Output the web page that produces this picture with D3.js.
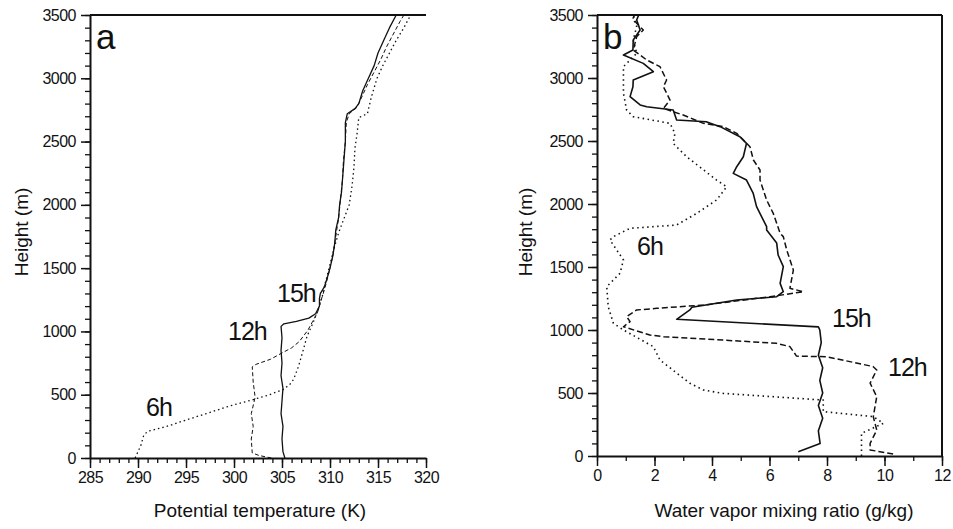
<!DOCTYPE html>
<html>
<head>
<meta charset="utf-8">
<script src="https://cdn.jsdelivr.net/npm/d3@7"></script>
<style>
  body { margin: 0; background: #fff; }
  svg { display: block; font-family: "Liberation Sans", Arial, sans-serif; }
  .axis path, .axis line { stroke: #111; }
  .axis text { font-size: 16px; fill: #111; font-family: "Liberation Sans", Arial, sans-serif; letter-spacing: -0.5px; }
</style>
</head>
<body>
<svg width="953" height="529"></svg>
<script>
// panel a: potential temperature (K) vs height (m)
var thetaTicks = [285, 290, 295, 300, 305, 310, 315, 320];
var heightTicks = [0, 500, 1000, 1500, 2000, 2500, 3000, 3500];
var theta6h = [[289.7,0],[290.3,100],[290.6,180],[291.0,210],[293.0,250],[295.0,300],[297.5,360],[299.5,410],[301.7,455],[303.5,495],[305.1,540],[305.8,580],[306.2,620],[306.7,720],[307.2,850],[307.6,960],[308.3,1080],[308.8,1180],[309.2,1280],[309.5,1380],[309.9,1500],[310.4,1650],[310.9,1780],[311.4,1880],[312.0,2000],[312.3,2150],[312.5,2300],[312.6,2450],[312.8,2550],[313.0,2690],[313.9,2720],[314.3,2850],[314.9,3000],[315.5,3100],[316.2,3200],[316.9,3300],[317.7,3400],[318.4,3500]];
var theta12h = [[303.9,0],[302.6,20],[301.9,40],[301.8,150],[302.0,250],[301.8,350],[302.2,480],[302.0,600],[301.9,720],[302.3,740],[303.8,780],[305.0,830],[306.0,870],[306.8,920],[307.3,970],[307.7,1010],[308.2,1080],[308.7,1150],[309.0,1230],[309.3,1300],[309.6,1380],[309.9,1470],[310.3,1600],[310.6,1750],[310.9,1900],[311.1,2050],[311.3,2200],[311.4,2350],[311.6,2500],[311.7,2650],[312.0,2720],[312.8,2770],[313.3,2850],[313.9,2950],[314.6,3050],[315.3,3150],[315.9,3250],[316.6,3350],[317.3,3450],[317.7,3500]];
var theta15h = [[305.3,0],[305.1,50],[305.0,150],[305.1,250],[304.9,350],[305.0,450],[305.1,550],[304.9,650],[305.0,750],[304.9,850],[305.0,950],[304.9,1040],[305.2,1060],[306.5,1080],[307.8,1105],[308.5,1140],[308.9,1200],[308.9,1260],[309.0,1300],[309.4,1350],[309.7,1420],[310.0,1500],[310.3,1600],[310.5,1700],[310.6,1800],[310.9,1900],[311.0,2000],[311.2,2100],[311.3,2200],[311.4,2300],[311.5,2400],[311.6,2500],[311.6,2650],[311.8,2720],[312.6,2760],[313.0,2800],[313.4,2900],[314.0,3000],[314.6,3100],[315.0,3200],[315.6,3300],[316.2,3400],[316.9,3500]];

// panel b: water vapor mixing ratio (g/kg) vs height (m)
var qTicks = [0, 2, 4, 6, 8, 10, 12];
var q6h = [[9.2,0],[9.2,180],[9.96,259],[9.61,312],[7.87,352],[7.87,444],[4.39,497],[3.7,524],[3.23,577],[2.19,762],[1.96,868],[0.92,1000],[0.57,1053],[0.39,1185],[0.34,1344],[0.8,1450],[0.92,1556],[0.45,1714],[0.57,1741],[1.15,1807],[2.77,1833],[3.47,1926],[4.16,2032],[4.51,2137],[4.16,2190],[3.12,2375],[2.65,2481],[2.71,2561],[2.54,2640],[1.26,2693],[1.03,2746],[0.92,2878],[0.92,3090],[1.15,3143],[1.38,3196],[1.26,3302],[1.38,3408],[1.26,3474],[1.3,3500]];
var q12h = [[10.3,16],[9.5,48],[9.5,100],[9.73,206],[9.61,312],[9.73,471],[9.5,578],[9.73,683],[9.6,710],[7.99,788],[6.94,793],[6.71,868],[6.25,894],[4.39,920],[2.31,947],[1.84,960],[0.92,1026],[1.15,1066],[1.03,1106],[1.38,1159],[2.08,1172],[3.7,1198],[6.02,1264],[7.18,1304],[6.71,1331],[6.83,1476],[6.6,1635],[6.48,1741],[6.37,1767],[6.13,1926],[5.9,2032],[5.67,2190],[5.67,2270],[5.44,2349],[5.32,2455],[4.86,2561],[4.39,2614],[3.7,2640],[3.0,2706],[2.31,2759],[2.54,2825],[2.31,2931],[2.42,2984],[2.19,3090],[1.73,3143],[1.26,3222],[1.38,3328],[1.61,3381],[1.38,3434],[1.26,3474],[1.3,3500]];
var q15h = [[7.0,34],[7.76,100],[7.7,200],[7.85,300],[7.7,400],[7.85,500],[7.75,600],[7.85,700],[7.7,800],[7.8,900],[7.75,1000],[7.7,1025],[2.77,1085],[3.23,1159],[3.3,1180],[4.86,1238],[6.25,1264],[6.48,1304],[6.37,1370],[6.48,1503],[6.3,1595],[6.25,1690],[5.9,1794],[5.9,1820],[5.55,1979],[5.43,2087],[5.2,2190],[4.74,2243],[4.86,2296],[5.09,2375],[5.2,2481],[4.97,2534],[4.28,2614],[3.8,2653],[2.77,2667],[2.65,2746],[1.73,2772],[1.5,2786],[1.15,2852],[1.25,2931],[1.26,2984],[1.96,3050],[1.61,3116],[0.92,3182],[1.25,3222],[1.26,3302],[1.5,3381],[1.38,3460],[1.45,3500]];

var svg = d3.select("svg");

function range(a, b, step) {
  var out = [];
  for (var v = a; v <= b + 1e-9; v += step) out.push(v);
  return out;
}

function panel(opts) {
  var x = d3.scaleLinear().domain(opts.xDomain).range([opts.left, opts.right]);
  var y = d3.scaleLinear().domain([0, 3500]).range([opts.bottom, opts.top]);
  var g = svg.append("g");

  // minor ticks
  g.append("g").attr("class", "axis")
    .attr("transform", "translate(0," + opts.bottom + ")")
    .call(d3.axisBottom(x).tickValues(range(opts.xDomain[0], opts.xDomain[1], opts.xMinor)).tickSize(5).tickFormat(""))
    .call(function(s) { s.select(".domain").remove(); s.selectAll("line").attr("stroke-width", 1.3); });
  g.append("g").attr("class", "axis")
    .attr("transform", "translate(" + opts.left + ",0)")
    .call(d3.axisLeft(y).tickValues(range(0, 3500, 100)).tickSize(5).tickFormat(""))
    .call(function(s) { s.select(".domain").remove(); s.selectAll("line").attr("stroke-width", 1.3); });

  // major ticks + labels
  g.append("g").attr("class", "axis")
    .attr("transform", "translate(0," + opts.bottom + ")")
    .call(d3.axisBottom(x).tickValues(opts.xTicks).tickSize(10).tickSizeOuter(0).tickPadding(4).tickFormat(d3.format("d")))
    .call(function(s) { s.select(".domain").attr("stroke-width", 2); s.selectAll("line").attr("stroke-width", 1.5); });
  g.append("g").attr("class", "axis")
    .attr("transform", "translate(" + opts.left + ",0)")
    .call(d3.axisLeft(y).tickValues(heightTicks).tickSize(9).tickSizeOuter(0).tickPadding(5).tickFormat(d3.format("d")))
    .call(function(s) { s.select(".domain").attr("stroke-width", 2); s.selectAll("line").attr("stroke-width", 1.5); });

  // top frame line, right frame optional
  g.append("line").attr("x1", opts.left).attr("x2", opts.right).attr("y1", opts.top).attr("y2", opts.top)
    .attr("stroke", "#111").attr("stroke-width", 2);
  if (opts.rightBorder) {
    g.append("line").attr("x1", opts.right).attr("x2", opts.right).attr("y1", opts.top).attr("y2", opts.bottom)
      .attr("stroke", "#111").attr("stroke-width", 2);
  }

  var line = d3.line().x(function(d) { return x(d[0]); }).y(function(d) { return y(d[1]); });
  opts.series.forEach(function(s) {
    g.append("path").attr("d", line(s.values))
      .attr("fill", "none").attr("stroke", "#111")
      .attr("stroke-width", s.width).attr("stroke-dasharray", s.dash)
      .attr("stroke-linejoin", "round");
  });

  g.append("text").attr("x", opts.letterX).attr("y", opts.top + 34)
    .style("font-size", "35px").attr("fill", "#111").text(opts.letter);

  opts.labels.forEach(function(l) {
    g.append("text").attr("x", l[1]).attr("y", l[2])
      .style("font-size", "25px").style("letter-spacing", "-1px").attr("fill", "#111").text(l[0]);
  });

  g.append("text").attr("x", opts.xTitleX).attr("y", 517).attr("text-anchor", "middle")
    .style("font-size", "19px").attr("fill", "#111").text(opts.xTitle);
  g.append("text").attr("transform", "translate(" + opts.yTitleX + ",232) rotate(-90)")
    .attr("text-anchor", "middle").style("font-size", "19px").attr("fill", "#111").text("Height (m)");
}

panel({
  left: 90, right: 426, top: 15, bottom: 458,
  xDomain: [285, 320], xTicks: thetaTicks, xMinor: 1,
  rightBorder: false,
  letter: "a", letterX: 96,
  xTitle: "Potential temperature (K)", xTitleX: 260, yTitleX: 28,
  labels: [["15h", 277, 302], ["12h", 228, 340], ["6h", 146, 416]],
  series: [
    {values: theta6h, dash: "1.5,3", width: 1.3},
    {values: theta12h, dash: "4,2.5", width: 1},
    {values: theta15h, dash: null, width: 1.3}
  ]
});

panel({
  left: 597, right: 942, top: 15, bottom: 456,
  xDomain: [0, 12], xTicks: qTicks, xMinor: 1,
  rightBorder: true,
  letter: "b", letterX: 603,
  xTitle: "Water vapor mixing ratio (g/kg)", xTitleX: 784, yTitleX: 532,
  labels: [["6h", 637, 255], ["15h", 832, 327], ["12h", 888, 376]],
  series: [
    {values: q6h, dash: "1.5,3.5", width: 1.6},
    {values: q12h, dash: "6,3", width: 1.5},
    {values: q15h, dash: null, width: 1.6}
  ]
});
</script>
</body>
</html>
